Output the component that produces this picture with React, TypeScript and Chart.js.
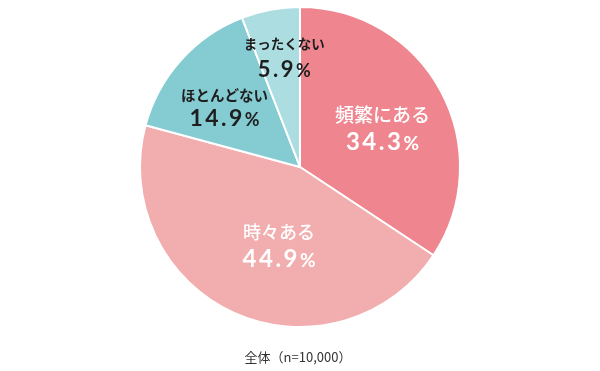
import React, { useEffect, useRef } from "react";
import { Chart, registerables } from "chart.js";

Chart.register(...registerables);

const categories = ["頻繁にある", "時々ある", "ほとんどない", "まったくない"];
const values = [34.3, 44.9, 14.9, 5.9];
const colors = ["#ee858f", "#f2adae", "#84cbd2", "#abdde1"];
const labelColors = ["#ffffff", "#ffffff", "#1e1e1e", "#1e1e1e"];
const caption = "全体（n=10,000）";

// label placement (styling only)
const labelNudge = [
  [12, -1],
  [12, 5.5],
  [-16, -7],
  [-1, -31.5],
];
const labelGap = [26, 26, 22, 25];
const nameSizes = [19, 18, 14.5, 13.5];
const nameWeights = [500, 500, 700, 700];
const numSizes = [24, 24, 23, 22];

const labelPlugin = {
  id: "sliceLabels",
  afterDatasetsDraw(chart: any) {
    const ctx = chart.ctx as CanvasRenderingContext2D;
    const meta = chart.getDatasetMeta(0);
    meta.data.forEach((arc: any, i: number) => {
      const mid = (arc.startAngle + arc.endAngle) / 2;
      const r = arc.outerRadius * 0.5;
      const x = arc.x + Math.cos(mid) * r + labelNudge[i][0];
      const y = arc.y + Math.sin(mid) * r + labelNudge[i][1];
      const g = labelGap[i] / 2;
      ctx.save();
      ctx.fillStyle = labelColors[i];
      ctx.textAlign = "center";
      ctx.textBaseline = "middle";
      ctx.font = `${nameWeights[i]} ${nameSizes[i]}px "Noto Sans CJK JP"`;
      (ctx as any).letterSpacing = "0px";
      ctx.fillText(categories[i], x, y - g);

      const num = values[i].toFixed(1);
      const ns = numSizes[i];
      ctx.font = `bold ${ns}px Lato`;
      (ctx as any).letterSpacing = "2.5px";
      const nw = ctx.measureText(num).width;
      const ps = Math.round(ns * 0.8);
      ctx.font = `bold ${ps}px Lato`;
      (ctx as any).letterSpacing = "0px";
      const pw = ctx.measureText("%").width;
      const left = x - (nw + pw) / 2;
      const by = y + g + ns * 0.36;
      ctx.textAlign = "left";
      ctx.textBaseline = "alphabetic";
      ctx.font = `bold ${ns}px Lato`;
      (ctx as any).letterSpacing = "2.5px";
      ctx.fillText(num, left, by);
      ctx.font = `bold ${ps}px Lato`;
      (ctx as any).letterSpacing = "0px";
      ctx.fillText("%", left + nw, by);
      ctx.restore();
    });
    ctx.save();
    ctx.fillStyle = "#333333";
    ctx.font = '13px "Noto Sans CJK JP"';
    ctx.textAlign = "center";
    ctx.textBaseline = "middle";
    ctx.fillText(caption, 298, 357);
    ctx.restore();
  },
};

export default function App() {
  const ref = useRef<HTMLCanvasElement>(null);
  useEffect(() => {
    document.body.style.margin = "0";
    const chart = new Chart(ref.current!, {
      type: "pie",
      data: {
        labels: categories,
        datasets: [
          {
            data: values,
            backgroundColor: colors,
            borderColor: "#ffffff",
            borderWidth: 2,
          },
        ],
      },
      options: {
        responsive: false,
        animation: false,
        layout: { padding: { top: 6, bottom: 43, left: 0, right: 0 } },
        plugins: {
          legend: { display: false },
          tooltip: { enabled: false },
        },
      },
      plugins: [labelPlugin],
    });
    return () => chart.destroy();
  }, []);
  return (
    <div style={{ width: 600, height: 371, background: "#ffffff" }}>
      <canvas ref={ref} width={600} height={371} />
    </div>
  );
}
